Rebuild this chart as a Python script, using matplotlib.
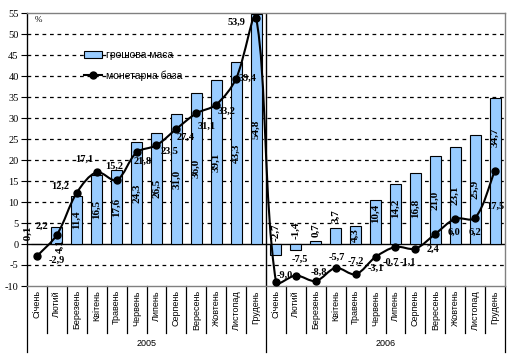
import matplotlib
matplotlib.use("Agg")
import matplotlib.pyplot as plt
import numpy as np
from matplotlib.path import Path
from matplotlib.patches import PathPatch, Patch
from matplotlib.lines import Line2D
import matplotlib.transforms as mtrans

months = ["Січень", "Лютий", "Березень", "Квітень", "Травень", "Червень",
          "Липень", "Серпень", "Вересень", "Жовтень", "Листопад", "Грудень"]
years = ["2005", "2006"]
money_supply = [-0.1, 4.1, 11.4, 16.5, 17.6, 24.3, 26.5, 31.0, 36.0, 39.1, 43.3, 54.8,
                -2.7, -1.4, 0.7, 3.7, 4.3, 10.4, 14.2, 16.8, 21.0, 23.1, 25.9, 34.7]
monetary_base = [-2.9, 2.2, 12.2, 17.1, 15.2, 21.8, 23.5, 27.4, 31.1, 33.2, 39.4, 53.9,
                 -9.0, -7.5, -8.8, -5.7, -7.2, -3.1, -0.7, -1.1, 2.4, 6.0, 6.2, 17.5]
series_names = ["грошова маса", "монетарна база"]
y_ticks = list(range(-10, 60, 5))

# label placement tweaks (layout only)
bar_label_center = {0: 2.3, 1: -0.5, 12: 2.9, 13: 3.3, 14: 3.4, 15: 6.7,
                    17: 7.4, 18: 8.6, 23: 25.5}
bar_label_dx = {0: -9.5, 1: 3}
line_label_off = [(20, 4), (-15, -8), (-17, -6), (-12, -13), (-2, -14), (6, 9),
                  (13, 6), (9.5, 8.5), (10.6, 13), (10, 6.5), (11.5, 0), (-19.5, 5),
                  (9, -7), (4, -16), (3.5, -9), (1, -11), (0.5, -12.5), (0, 11.5),
                  (-4.5, 15.5), (-8, 14), (-2.5, 15), (-1, 13), (0, 14), (0, 36)]

W, H = 507, 357
fig = plt.figure(figsize=(W / 100, H / 100), dpi=100)
L, R, T, B = 27, 505, 13, 286
ax = fig.add_axes([L / W, 1 - B / H, (R - L) / W, (B - T) / H])

n = len(money_supply)
x = np.arange(n)
ax.set_xlim(-0.5, n - 0.5)
ax.set_ylim(-10, 55)

serif = "Liberation Serif"
sans = "Liberation Sans"

# grid
for yv in y_ticks:
    if yv in (-10, 0, 55):
        continue
    ax.axhline(yv, color="black", lw=0.9, ls=(0, (3, 3)), zorder=1)
ax.axhline(0, color="black", lw=1.0, zorder=2)
ax.axvline(11.5, color="black", lw=1.0, zorder=2)

bars = ax.bar(x, money_supply, width=0.55, color="#99CCFF", edgecolor="black",
              lw=0.8, zorder=3, label=series_names[0])

# bar labels
for i, v in enumerate(money_supply):
    yc = bar_label_center.get(i, v / 2)
    ax.annotate(f"{v:.1f}".replace(".", ","), (x[i], yc),
                xytext=(bar_label_dx.get(i, 0), 0), textcoords="offset pixels",
                rotation=90, ha="center", va="center", fontsize=8,
                family=serif, fontweight="bold", zorder=6)

# smooth line (Excel-like bezier)
fig.canvas.draw()
pts = ax.transData.transform(np.column_stack([x, monetary_base]))
verts = [pts[0]]
codes = [Path.MOVETO]
m = len(pts)
for i in range(m - 1):
    p0 = pts[i - 1] if i > 0 else pts[i]
    p1 = pts[i]
    p2 = pts[i + 1]
    p3 = pts[i + 2] if i + 2 < m else pts[i + 1]
    d01 = np.hypot(*(p1 - p0))
    d12 = np.hypot(*(p2 - p1))
    d23 = np.hypot(*(p3 - p2))
    f1 = d12 / (d01 + d12) / 3 if d01 + d12 > 0 else 0
    f2 = d12 / (d12 + d23) / 3 if d12 + d23 > 0 else 0
    c1 = p1 + (p2 - p0) * f1
    c2 = p2 - (p3 - p1) * f2
    verts += [c1, c2, p2]
    codes += [Path.CURVE4] * 3
verts_data = ax.transData.inverted().transform(np.array(verts))
patch = PathPatch(Path(verts_data, codes), facecolor="none", edgecolor="black",
                  lw=1.5, zorder=4, clip_on=False)
ax.add_patch(patch)
ax.plot(x, monetary_base, "o", color="black", ms=5, zorder=5)

for i, v in enumerate(monetary_base):
    dx, dy = line_label_off[i]
    ax.annotate(f"{v:.1f}".replace(".", ","), (x[i], v), xytext=(dx, -dy),
                textcoords="offset pixels", ha="center", va="center",
                fontsize=7.5, family=serif, fontweight="bold", zorder=6)

# spines & ticks
for s in ["top", "right", "bottom"]:
    ax.spines[s].set_color("#808080")
    ax.spines[s].set_linewidth(1.0)
ax.spines["left"].set_color("black")
ax.set_yticks(y_ticks)
ax.set_yticklabels([str(t) for t in y_ticks], family=serif, fontsize=7.5)
ax.tick_params(axis="y", length=4, width=0.8, pad=2, direction="out")
ax.set_xticks([])

# category axis
trans = mtrans.blended_transform_factory(ax.transData, ax.transAxes)
ph = B - T
for i in range(n):
    ax.text(x[i], -4 / ph, months[i % 12], transform=trans, rotation=90,
            ha="center", va="top", fontsize=6.5, family=sans, clip_on=False)
for k in range(n + 1):
    xb = k - 0.5
    bottom = -(352 - B) / ph if k % 12 == 0 else -(333 - B) / ph
    ax.add_line(Line2D([xb, xb], [0, bottom], transform=trans, color="black",
                       lw=0.9, clip_on=False))
ax.plot([-0.5, -0.5], [1, 0], transform=trans, color="black", lw=0.9, clip_on=False)
for j, yr in enumerate(years):
    ax.text(j * 12 + 5.5, -(343 - B) / ph, yr, transform=trans, ha="center",
            va="center", fontsize=6.5, family=sans, clip_on=False)

fig.text(38 / W, 1 - 20 / H, "%", ha="center", va="center", fontsize=6.5, family=serif)

handles = [Patch(facecolor="#99CCFF", edgecolor="black", lw=0.8),
           Line2D([0], [0], color="black", lw=1.5, marker="o", ms=5)]
fig.legend(handles, series_names, loc="upper left",
           bbox_to_anchor=(84 / W, 1 - 50 / H), frameon=False, borderpad=0,
           borderaxespad=0, handlelength=1.75, handleheight=0.6, handletextpad=0.4,
           labelspacing=1.0, prop={"family": sans, "size": 7.5})

fig.savefig("out.png", dpi=100)
